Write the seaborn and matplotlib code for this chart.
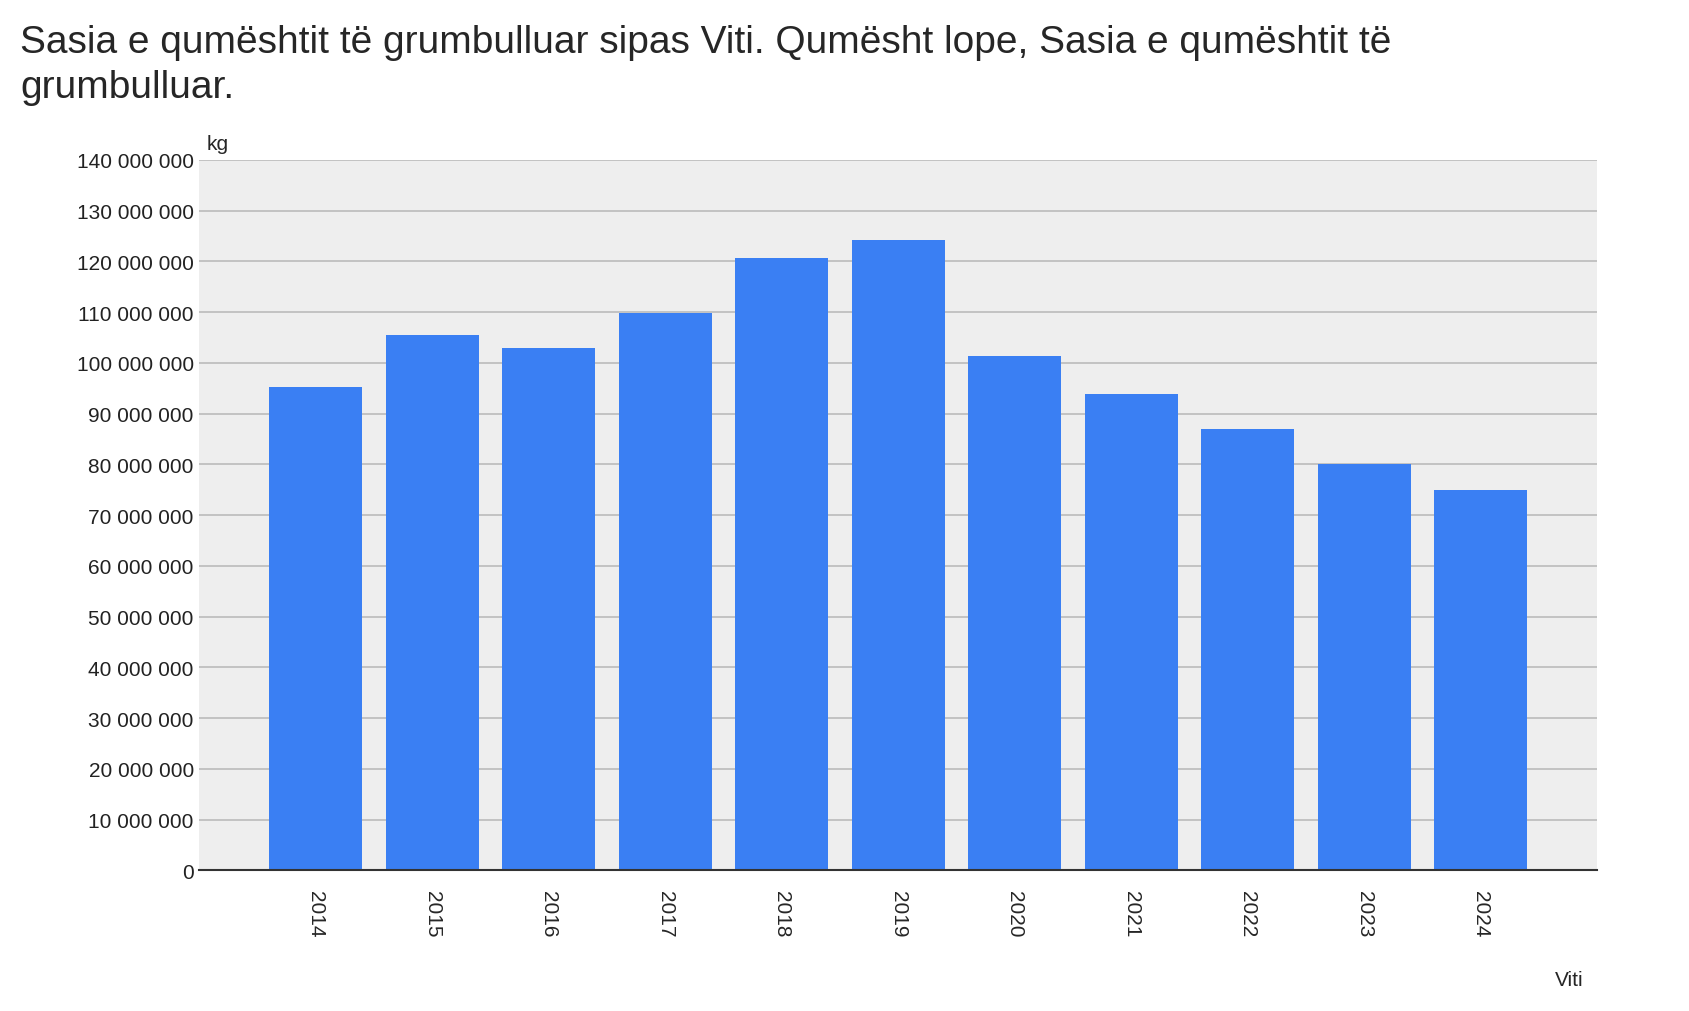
import matplotlib
matplotlib.use('Agg')
import matplotlib.pyplot as plt
import seaborn as sns
import pandas as pd

# data
years = ['2014', '2015', '2016', '2017', '2018', '2019', '2020', '2021', '2022', '2023', '2024']
milk_kg = [95.2e6, 105.4e6, 103.0e6, 109.8e6, 120.7e6, 124.3e6, 101.3e6, 93.9e6, 86.9e6, 80.1e6, 75.0e6]

df = pd.DataFrame({'Viti': years, 'kg': milk_kg})

sns.set_style('white')
plt.rcParams['font.family'] = ['Liberation Sans', 'DejaVu Sans']

fig = plt.figure(figsize=(16.9, 10.12), dpi=100)
ax = fig.add_axes([0.118, 0.139, 0.827, 0.702])
ax.set_facecolor('#eeeeee')

sns.barplot(data=df, x='Viti', y='kg', color='#3a7ff3', saturation=1, width=0.8,
            linewidth=0, ax=ax)

ax.set_ylim(0, 140e6)
ax.set_xlim(-1, 11)
ticks = [i * 10e6 for i in range(15)]
ax.set_yticks(ticks)
ax.set_yticklabels(['{:,}'.format(int(t)).replace(',', ' ') for t in ticks], fontsize=15, color='#222222')
ax.grid(axis='y', color='#bbbbbb', linewidth=1.2)
ax.set_axisbelow(True)
ax.tick_params(axis='x', labelrotation=-90, labelsize=15, length=0, pad=14)
ax.tick_params(axis='y', length=0, pad=4)
for s in ['top', 'right', 'left']:
    ax.spines[s].set_visible(False)
ax.spines['bottom'].set_color('#333333')
ax.spines['bottom'].set_linewidth(1.5)
ax.set_xlabel('')
ax.set_ylabel('')

ax.text(0.005, 1.01, 'kg', transform=ax.transAxes, fontsize=15, va='bottom')
ax.text(0.99, -0.14, 'Viti', transform=ax.transAxes, fontsize=15, ha='right', va='top')

fig.text(0.012, 0.975, 'Sasia e qumështit të grumbulluar sipas Viti. Qumësht lope, Sasia e qumështit të\ngrumbulluar.',
         fontsize=28, va='top', ha='left', linespacing=1.3)

fig.savefig('out.png', dpi=100, facecolor='white')
